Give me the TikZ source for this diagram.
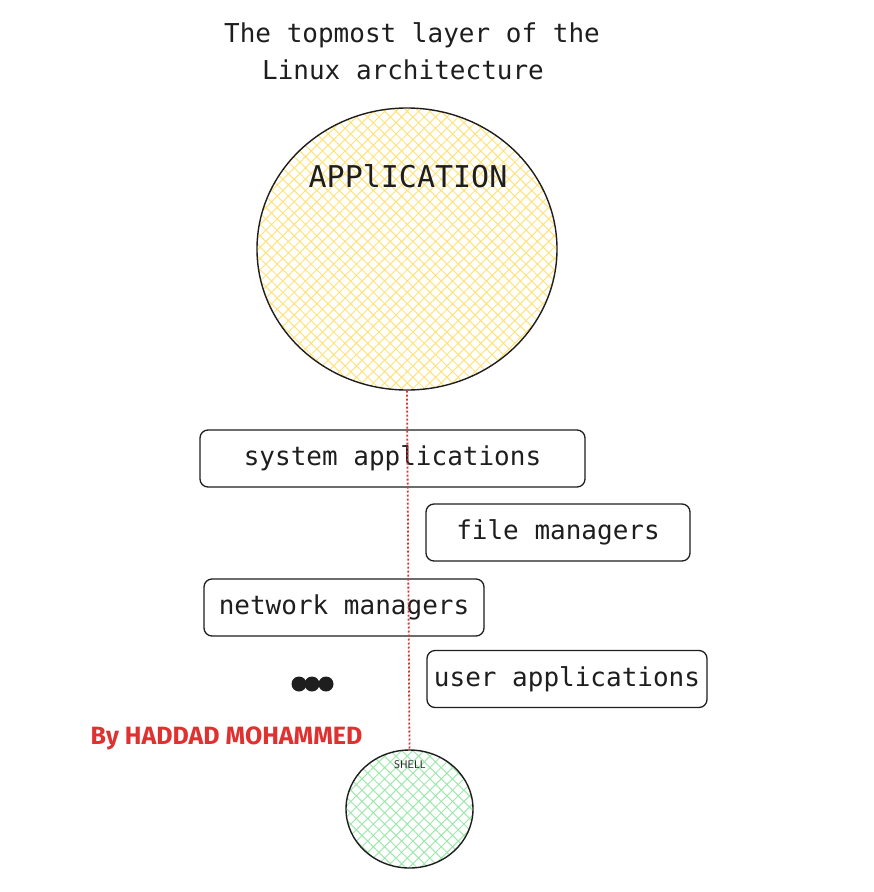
\documentclass[tikz,border=0pt]{standalone}
\usepackage{fontspec}
\setmonofont{DejaVu Sans Mono}
\newfontfamily\authorfont{Fira Sans}
\usetikzlibrary{shapes.geometric,patterns.meta}
\definecolor{hatchyellow}{HTML}{FFE27A}
\definecolor{hatchgreen}{HTML}{9FE8AC}
\definecolor{authorred}{HTML}{E03131}
\definecolor{ink}{HTML}{1E1E1E}
\tikzset{
  txt/.style={font=\ttfamily\fontsize{26}{30}\selectfont, text=ink, inner sep=0pt},
  itembox/.style={draw=ink, line width=1.3pt, rounded corners=8pt, fill=white, inner sep=0pt, minimum height=57pt, font=\ttfamily\fontsize{26}{30}\selectfont, text=ink},
  blob/.style={ellipse, draw=ink, line width=1.4pt, inner sep=0pt},
  bullet/.style={circle, fill=ink, inner sep=0pt, minimum size=15pt},
  hatchfill/.style={pattern={Hatch[angle=45, distance=8pt, line width=1pt]}, pattern color=#1},
}
\begin{document}
\begin{tikzpicture}[x=1pt,y=-1pt]
\useasboundingbox (0,0) rectangle (874,892);
% title
\node[txt] (t1) at (412,35) {The topmost layer of the};
\node[txt] (t2) at (403,70) {Linux architecture};
% application ellipse
\node[blob, minimum width=300pt, minimum height=282pt, hatchfill=hatchyellow] (app) at (407,249) {};
\node[txt, font=\ttfamily\fontsize{30}{34}\selectfont] (applbl) at (408,176) {APPlICATION};
% boxes
\node[itembox, minimum width=385pt] (sys) at (392.5,458.5) {system applications};
\node[itembox, minimum width=264pt] (fm) at (558,532.5) {file managers};
\node[itembox, minimum width=280pt] (nm) at (344,607.5) {network managers};
\node[itembox, minimum width=280pt] (ua) at (567,679) {user applications};
% dots
\node[bullet] (d1) at (299,684) {};
\node[bullet] (d2) at (312,684) {};
\node[bullet] (d3) at (326,684) {};
% author
\node[font=\authorfont\bfseries\fontsize{25}{29}\selectfont, text=authorred, inner sep=0pt] (author) at (226.5,738) {By HADDAD MOHAMMED};
% shell circle
\node[blob, minimum width=127pt, minimum height=118pt, hatchfill=hatchgreen] (shell) at (409.5,809) {};
\node[font=\sffamily\fontsize{11}{13}\selectfont, text=ink, inner sep=0pt] (shelllbl) at (410,765) {SHELL};
% connector
\draw[authorred, line width=1.8pt, dash pattern=on 2pt off 2pt] (app.south) -- (shell.north);
\end{tikzpicture}
\end{document}
